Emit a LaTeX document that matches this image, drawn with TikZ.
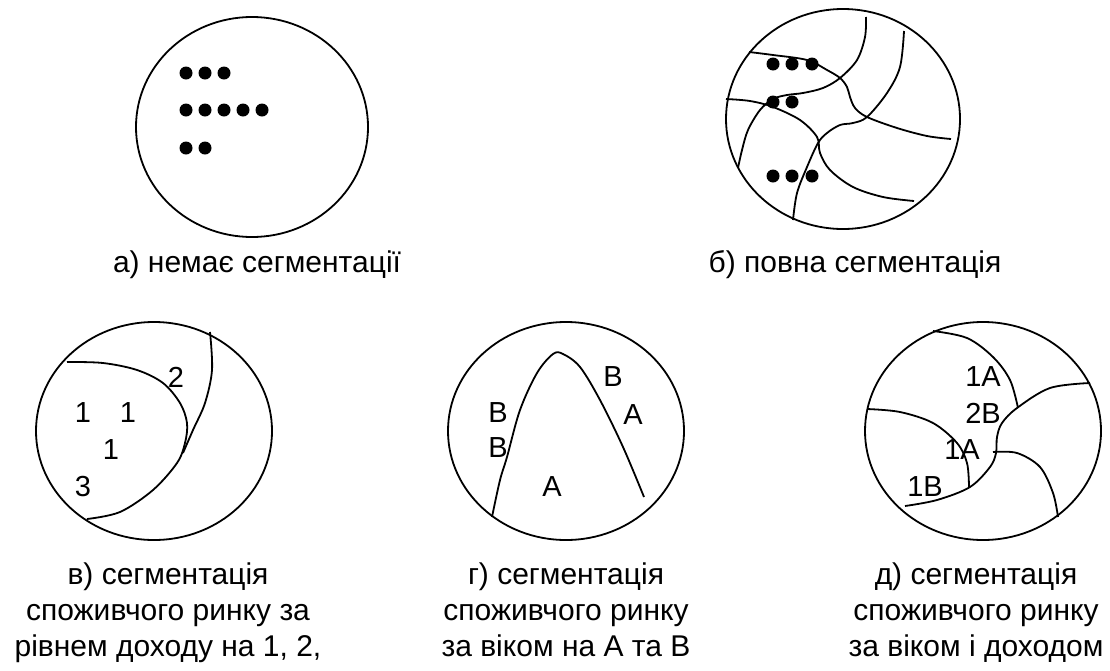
\documentclass[tikz,border=0pt]{standalone}
\usepackage{fontspec}
\setmainfont{Liberation Sans}
\usetikzlibrary{shapes.geometric}
\begin{document}
\begin{tikzpicture}[x=1pt,y=-1pt, line width=1.8pt,
  capline/.style={font=\fontsize{30}{35}\selectfont, anchor=base, inner sep=0pt},
  lab/.style={font=\fontsize{29}{34}\selectfont, inner sep=0pt},
  blob/.style={circle, fill=black, minimum size=13pt, inner sep=0pt},
  oval/.style={ellipse, draw, inner sep=0pt, minimum width=236pt, minimum height=218pt},
  seg/.style={smooth, tension=0.55}]
\useasboundingbox (0,0) rectangle (1110,670);
% ---------- a) ----------
\node[oval, minimum width=232pt, minimum height=220pt] (ea) at (252,127) {};
\foreach \i/\x in {1/186,2/205,3/224} \node[blob] (a1\i) at (\x,73) {};
\foreach \i/\x in {1/186,2/205,3/224,4/243,5/262} \node[blob] (a2\i) at (\x,110) {};
\foreach \i/\x in {1/186,2/205} \node[blob] (a3\i) at (\x,148) {};
\node[capline] (ca) at (257,272) {а) немає сегментації};
% ---------- b) ----------
\node[oval, minimum width=234pt, minimum height=220pt] (eb) at (843,119) {};
\draw plot[seg] coordinates {(749,52) (773,55) (807,60) (827,70) (840,78) (847,87) (850,97) (855,108) (867,117) (897,128) (927,136) (951,139)};
\draw plot[seg] coordinates {(866,17) (865,37) (857,60) (840,78) (823,88) (803,93) (787,95) (773,99) (760,110) (748,130) (742,150) (738,168)};
\draw plot[seg] coordinates {(904,31) (900,67) (887,93) (867,117) (853,123) (840,125) (827,133) (818,143) (807,167) (797,193) (793,220)};
\draw plot[seg] coordinates {(726,99) (750,101) (773,107) (800,120) (817,137) (820,153) (830,170) (853,187) (883,197) (914,201)};
\foreach \i/\x in {1/773,2/792,3/812} \node[blob] (b1\i) at (\x,64) {};
\foreach \i/\x in {1/773,2/792} \node[blob] (b2\i) at (\x,102) {};
\foreach \i/\x in {1/773,2/792,3/812} \node[blob] (b3\i) at (\x,176) {};
\node[capline] (cb) at (855,272) {б) повна сегментація};
% ---------- v) ----------
\node[oval] (ev) at (154,431) {};
\draw plot[seg] coordinates {(67,362) (103,363) (137,370) (163,383) (180,403) (187,423) (185,443) (177,463) (153,490) (120,512) (87,519)};
\draw plot[seg] coordinates {(210,332) (212,370) (205,403) (193,430) (183,453)};
\node[lab] (v2) at (176,377) {2};
\node[lab] (v1a) at (83,413) {1};
\node[lab] (v1b) at (128,413) {1};
\node[lab] (v1c) at (111,450) {1};
\node[lab] (v3) at (83,487) {3};
\node[capline] (cv1) at (168,584) {в) сегментація};
\node[capline] (cv2) at (168,620) {споживчого ринку за};
\node[capline] (cv3) at (168,656) {рівнем доходу на 1, 2,};
% ---------- g) ----------
\node[oval] (eg) at (566,431) {};
\draw plot[seg] coordinates {(492,517) (500,480) (507,457) (520,410) (537,373) (553,354) (563,354) (580,367) (600,400) (623,447) (644,497)};
\node[lab] (gb1) at (498,413) {B};
\node[lab] (gb2) at (498,448) {B};
\node[lab] (ga1) at (552,487) {A};
\node[lab] (gb3) at (613,377) {B};
\node[lab] (ga2) at (633,415) {A};
\node[capline] (cg1) at (566,584) {г) сегментація};
\node[capline] (cg2) at (566,620) {споживчого ринку};
\node[capline] (cg3) at (566,656) {за віком на А та В};
% ---------- d) ----------
\node[oval] (ed) at (983,431) {};
\draw plot[seg] coordinates {(933,331) (967,338) (993,357) (1010,380) (1018,408)};
\draw plot[seg] coordinates {(1090,383) (1050,388) (1017,408) (1002,423) (997,437) (996,453) (990,467) (970,487) (937,500) (905,506)};
\draw plot[seg] coordinates {(867,409) (900,412) (933,423) (957,443) (967,463) (969,487)};
\draw plot[seg] coordinates {(993,452) (1017,453) (1040,467) (1053,493) (1058,517)};
\node[lab] (d1) at (983,377) {1A};
\node[lab] (d2) at (983,413) {2B};
\node[lab] (d3) at (962,450) {1A};
\node[lab] (d4) at (925,487) {1B};
\node[capline] (cd1) at (976,584) {д) сегментація};
\node[capline] (cd2) at (976,620) {споживчого ринку};
\node[capline] (cd3) at (976,656) {за віком і доходом};
\end{tikzpicture}
\end{document}
